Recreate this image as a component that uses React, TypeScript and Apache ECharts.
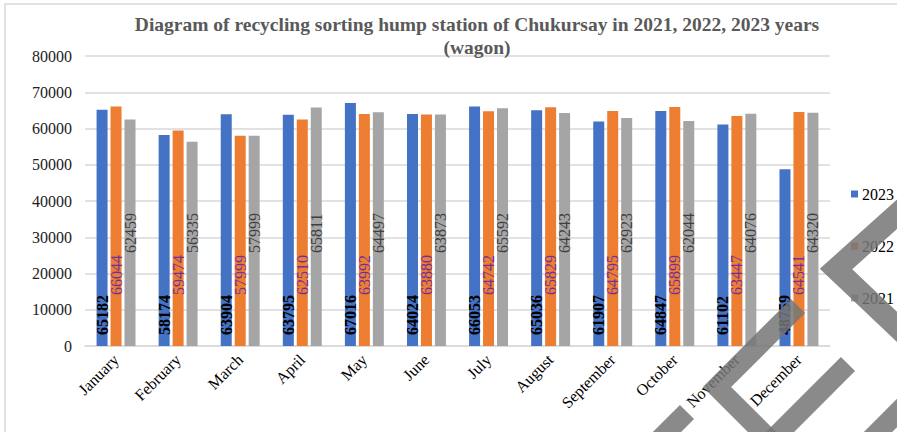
import React, { useEffect, useRef } from "react";
import * as echarts from "echarts";

const months = ["January", "February", "March", "April", "May", "June", "July", "August", "September", "October", "November", "December"];
const values2023 = [65182, 58174, 63904, 63795, 67016, 64024, 66053, 65036, 61907, 64847, 61102, 48759];
const values2022 = [66044, 59474, 57999, 62510, 63992, 63880, 64742, 65829, 64795, 65899, 63447, 64541];
const values2021 = [62459, 56335, 57999, 65811, 64497, 63873, 65592, 64243, 62923, 62044, 64076, 64320];
const seriesNames = ["2023", "2022", "2021"];
const titleLines = ["Diagram of recycling sorting hump station of Chukursay in 2021, 2022, 2023 years", "(wagon)"];

const FONT = "Liberation Serif";

export default function App() {
  const ref = useRef<HTMLDivElement>(null);
  useEffect(() => {
    document.body.style.margin = "0";
    if (!ref.current) return;
    const chart = echarts.init(ref.current, null, { renderer: "svg" });
    const mkLabel = (color: string, dist: number, bold: boolean) => ({
      show: true,
      position: "insideBottom",
      rotate: 90,
      align: "left",
      verticalAlign: "middle",
      distance: dist,
      color,
      fontSize: 16,
      fontFamily: FONT,
      fontWeight: bold ? "bold" : "normal",
    });
    const wm = { stroke: "#757575", lineWidth: 20, opacity: 0.85, fill: null };
    chart.setOption({
      animation: false,
      backgroundColor: "#ffffff",
      textStyle: { fontFamily: FONT },
      grid: { left: 85, right: 67, top: 56, bottom: 86, containLabel: false },
      legend: {
        orient: "vertical",
        left: 846,
        top: 181,
        itemWidth: 7,
        itemHeight: 7,
        itemGap: 36,
        icon: "rect",
        data: seriesNames,
        textStyle: { fontFamily: FONT, fontSize: 16, color: "#000", padding: [0, 0, 0, -1] },
      },
      xAxis: {
        type: "category",
        data: months,
        axisLine: { lineStyle: { color: "#d9d9d9", width: 1.5 } },
        axisTick: { show: false },
        axisLabel: { rotate: 45, fontFamily: FONT, fontSize: 16, color: "#000", margin: 11, interval: 0 },
      },
      yAxis: {
        type: "value",
        min: 0,
        max: 80000,
        interval: 10000,
        axisLine: { show: false },
        axisTick: { show: false },
        splitLine: { lineStyle: { color: "#d9d9d9", width: 1.5 } },
        axisLabel: { fontFamily: FONT, fontSize: 16, color: "#222", margin: 13, formatter: (v: number) => String(v) },
      },
      series: [
        { name: seriesNames[0], type: "bar", data: values2023, barWidth: 11, barGap: "27%", itemStyle: { color: "#4472C4" }, label: mkLabel("#000", 11, true) },
        { name: seriesNames[1], type: "bar", data: values2022, barWidth: 11, barGap: "27%", itemStyle: { color: "#ED7D31" }, label: mkLabel("#7030A0", 51, false) },
        { name: seriesNames[2], type: "bar", data: values2021, barWidth: 11, barGap: "27%", itemStyle: { color: "#A5A5A5" }, label: mkLabel("#404040", 93, false) },
      ],
      graphic: [
        { type: "rect", shape: { x: 5, y: 4, width: 920, height: 460 }, style: { fill: null, stroke: "#d9d9d9", lineWidth: 1.5 }, z: 0, silent: true },
        {
          type: "text",
          x: 477,
          y: 13,
          style: {
            text: titleLines.join("\n"),
            fontFamily: FONT,
            fontSize: 19.5,
            fontWeight: "bold",
            fill: "#595959",
            align: "center",
            lineHeight: 23,
          },
          z: 10,
        },
        { type: "polyline", shape: { points: [[915, 198], [836, 269], [915, 344]] }, style: { ...wm, lineWidth: 22, lineJoin: "miter" }, z: 100, silent: true },
        { type: "polyline", shape: { points: [[798, 306], [717, 387], [780, 450]] }, style: { ...wm, lineJoin: "miter" }, z: 100, silent: true },
        { type: "line", shape: { x1: 848, y1: 364, x2: 770, y2: 442 }, style: { ...wm }, z: 100, silent: true },
        { type: "line", shape: { x1: 687, y1: 412, x2: 650, y2: 449 }, style: { ...wm }, z: 100, silent: true },
        { type: "line", shape: { x1: 905, y1: 405, x2: 862, y2: 448 }, style: { ...wm }, z: 100, silent: true },
      ],
    });
    return () => chart.dispose();
  }, []);
  return <div ref={ref} style={{ width: 897, height: 432 }} />;
}
